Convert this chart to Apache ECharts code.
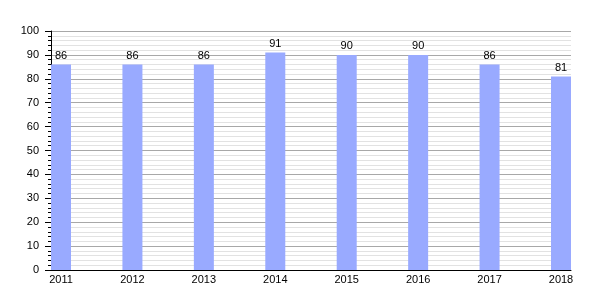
<!DOCTYPE html>
<html>
<head>
<meta charset="utf-8">
<script src="https://cdn.jsdelivr.net/npm/echarts@6/dist/echarts.min.js"></script>
<style>html,body{margin:0;padding:0;background:#fff}#c{width:600px;height:300px}</style>
</head>
<body>
<div id="c"></div>
<script>
var years = [2011, 2012, 2013, 2014, 2015, 2016, 2017, 2018];
var values = [86, 86, 86, 91, 90, 90, 86, 81];
var yTicks = [0, 10, 20, 30, 40, 50, 60, 70, 80, 90, 100];

var chart = echarts.init(document.getElementById('c'), null, {renderer: 'canvas'});
var font = 'Liberation Sans, Arial, sans-serif';
chart.setOption({
  animation: false,
  grid: {left: 51, right: 29, top: 31, bottom: 30, containLabel: false},
  xAxis: {
    type: 'value',
    min: 2010.86,
    max: 2018.14,
    axisLine: {show: true, lineStyle: {color: '#000', width: 1}},
    axisTick: {show: false},
    splitLine: {show: false},
    axisLabel: {
      customValues: years,
      margin: 4,
      color: '#000',
      fontFamily: font,
      fontSize: 11,
      formatter: function (v) { return String(Math.round(v)); }
    }
  },
  yAxis: {
    type: 'value',
    min: yTicks[0],
    max: yTicks[yTicks.length - 1],
    interval: 10,
    axisLine: {show: true, lineStyle: {color: '#000', width: 1}},
    axisTick: {show: true, inside: false, length: 6, lineStyle: {color: '#000'}},
    minorTick: {show: true, splitNumber: 5, length: 3, lineStyle: {color: '#000'}},
    splitLine: {show: true, lineStyle: {color: '#a8a8a8', width: 1}},
    minorSplitLine: {show: true, lineStyle: {color: '#e2e2e2', width: 1}},
    axisLabel: {margin: 12, color: '#000', fontFamily: font, fontSize: 11}
  },
  series: [{
    type: 'bar',
    data: years.map(function (y, i) { return [y, values[i]]; }),
    barWidth: 20,
    itemStyle: {color: '#99aaff'},
    label: {show: true, position: 'top', distance: 3, color: '#000', fontFamily: font, fontSize: 11}
  }]
});
</script>
</body>
</html>
